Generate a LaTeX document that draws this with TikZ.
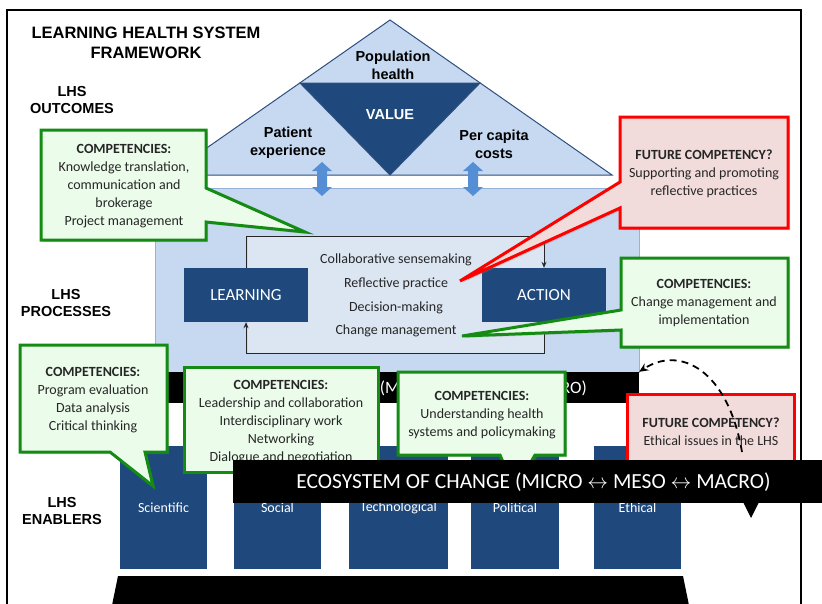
\documentclass[tikz,border=0pt]{standalone}
\usepackage{fontspec}
\setmainfont{Carlito}
\newfontfamily\arialf{Liberation Sans}
\usetikzlibrary{arrows.meta,shadows}
\definecolor{lhslight}{HTML}{C6D9F1}
\definecolor{lhsdark}{HTML}{1F497D}
\definecolor{roofline}{HTML}{2E4F7E}
\definecolor{bodyline}{HTML}{95B3D7}
\definecolor{pboxfill}{HTML}{DCE6F2}
\definecolor{arrowblue}{HTML}{558ED5}
\definecolor{cgreen}{HTML}{148C14}
\definecolor{cgreenfill}{HTML}{EBFCEB}
\definecolor{cred}{HTML}{FF0000}
\definecolor{credfill}{HTML}{F2DCDB}
\definecolor{txtgray}{HTML}{262626}
\begin{document}
\begin{tikzpicture}[x=1pt,y=-1pt,
  lbl/.style={font=\arialf\bfseries\fontsize{14.5}{16.5}\selectfont, align=center, inner sep=0pt},
  rooftxt/.style={font=\arialf\bfseries\fontsize{14.5}{18}\selectfont, align=center, inner sep=0pt},
  calltxt/.style={font=\fontsize{14}{18}\selectfont, text=txtgray, align=center, inner sep=0pt},
  greencall/.style={draw=cgreen, line width=3pt, fill=cgreenfill, line join=miter, drop shadow={shadow xshift=2pt,shadow yshift=-2pt,opacity=.3}},
  redcall/.style={draw=cred, line width=3pt, fill=credfill, line join=miter, drop shadow={shadow xshift=2pt,shadow yshift=-2pt,opacity=.3}},
  darkbox/.style={fill=lhsdark, text=white, inner sep=0pt},
  pillar/.style={darkbox, minimum height=123pt, font=\fontsize{14}{16}\selectfont},
  procarrow/.style={line width=1pt, draw=black!85, -{Stealth[length=6pt,width=5pt]}},
  dblarr/.style={fill=arrowblue},
  bandbox/.style={fill=black, inner sep=0pt}
]
\useasboundingbox (0,0) rectangle (822,603);
\clip (0,0) rectangle (822,603);
% frame
\draw[line width=1.8pt] (7,620) -- (7,10) -- (801,10) -- (801,620);

% titles and labels
\node[lbl, font=\arialf\bfseries\fontsize{16.5}{20}\selectfont] (title) at (146,43) {LEARNING HEALTH SYSTEM\\FRAMEWORK};
\node[lbl] (lout) at (72,100) {LHS\\OUTCOMES};
\node[lbl] (lproc) at (66,303) {LHS\\PROCESSES};
\node[lbl] (lenab) at (62,511) {LHS\\ENABLERS};

% roof
\filldraw[fill=lhslight, draw=roofline, line width=1pt] (168,175) -- (390,20) -- (612,175) -- cycle;
\filldraw[fill=lhsdark, draw=roofline, line width=1pt] (300,83) -- (480,83) -- (390,175) -- cycle;
\node[rooftxt, text=white] (value) at (390,115) {VALUE};
\node[rooftxt] (pop) at (393,65.5) {Population\\health};
\node[rooftxt] (pat) at (288,143) {Patient\\experience};
\node[rooftxt] (cap) at (494,144) {Per capita\\costs};

% body
\filldraw[fill=lhslight, draw=bodyline, line width=1pt] (155,188) rectangle (639,372);

% double arrows
\fill[dblarr, shift={(322,179)}] (0,-17) -- (10,-8) -- (5,-8) -- (5,8) -- (10,8) -- (0,17) -- (-10,8) -- (-5,8) -- (-5,-8) -- (-10,-8) -- cycle;
\fill[dblarr, shift={(473,179)}] (0,-17) -- (10,-8) -- (5,-8) -- (5,8) -- (10,8) -- (0,17) -- (-10,8) -- (-5,8) -- (-5,-8) -- (-10,-8) -- cycle;

% process box
\node[fill=pboxfill, minimum width=296pt, minimum height=116pt, inner sep=0pt] (pbox) at (396,295) {};
\node[darkbox, minimum width=124pt, minimum height=54pt, font=\fontsize{17}{20}\selectfont] (learn) at (246,295) {LEARNING};
\node[darkbox, minimum width=124pt, minimum height=54pt, font=\fontsize{17}{20}\selectfont] (action) at (544,295) {ACTION};
\draw[procarrow] (learn.north) |- (pbox.north) -| (action.north);
\draw[procarrow] (action.south) |- (pbox.south) -| (learn.south);
\node[calltxt, font=\fontsize{14}{23.7}\selectfont] (ptext) at (396,295.5) {Collaborative sensemaking\\Reflective practice\\Decision-making\\Change management};

% old ecosystem band
\node[bandbox, minimum width=489pt, minimum height=31pt] (oldband) at (394.5,387.5) {};
\node[font=\fontsize{17.3}{20}\selectfont, text=white, anchor=east, inner sep=0pt] (oldbandtxt) at (587,388) {ECOSYSTEM OF CHANGE (MICRO $\leftrightarrow$ MESO $\leftrightarrow$ MACRO)};

% pillars
\node[pillar, minimum width=87pt] (sci) at (163.5,507.5) {Scientific};
\node[pillar, minimum width=87pt] (soc) at (277.5,507.5) {Social};
\node[pillar, minimum width=99pt] (tech) at (398.5,507.5) {Technological};
\node[pillar, minimum width=88pt] (pol) at (515,507.5) {Political};
\node[pillar, minimum width=87pt] (eth) at (637.5,507.5) {Ethical};

% base
\fill (118,576) -- (683,576) -- (691,615) -- (110,615) -- cycle;

% callout 1
\path[greencall] (41,130) -- (206,130) -- (206,188) -- (305,232) -- (206,222) -- (206,240) -- (41,240) -- cycle;
\node[calltxt] (c1) at (124,186) {\textbf{COMPETENCIES:}\\Knowledge translation,\\communication and\\brokerage\\Project management};
% callout 2 (red)
\path[redcall] (620,117) -- (788,117) -- (788,228) -- (620,228) -- (620,208) -- (460,281) -- (620,182) -- cycle;
\node[calltxt] (c2) at (704,174) {\textbf{FUTURE COMPETENCY?}\\Supporting and promoting\\reflective practices};
% callout 3
\path[greencall] (621,258) -- (788,258) -- (788,347) -- (621,347) -- (621,330) -- (462,336) -- (621,310) -- cycle;
\node[calltxt] (c3) at (704,303) {\textbf{COMPETENCIES:}\\Change management and\\implementation};
% callout 4
\path[greencall] (20,345) -- (167,345) -- (167,452) -- (145,452) -- (153,486) -- (110,452) -- (20,452) -- cycle;
\node[calltxt] (c4) at (93,400.5) {\textbf{COMPETENCIES:}\\Program evaluation\\Data analysis\\Critical thinking};
% callout 5
\path[greencall] (184,367) -- (378,367) -- (378,472) -- (184,472) -- cycle;
\node[calltxt] (c5) at (281,422) {\textbf{COMPETENCIES:}\\Leadership and collaboration\\Interdisciplinary work\\Networking\\Dialogue and negotiation};
% callout 7
\path[greencall] (398,372) -- (565,372) -- (565,455) -- (535,455) -- (515,490) -- (500,455) -- (398,455) -- cycle;
\node[calltxt] (c7) at (482,415) {\textbf{COMPETENCIES:}\\Understanding health\\systems and policymaking};
% callout 6 (red)
\path[redcall] (627,394) -- (794,394) -- (794,475) -- (627,475) -- cycle;
\node[calltxt] (c6) at (711,432) {\textbf{FUTURE COMPETENCY?}\\Ethical issues in the LHS};

% new ecosystem band
\node[bandbox, minimum width=589pt, minimum height=43pt] (newband) at (527.5,481.5) {};
\fill (743,502) -- (759,502) -- (751,518) -- cycle;
\node[font=\fontsize{21.5}{24}\selectfont, text=white, inner sep=0pt] (newbandtxt) at (533.5,482) {ECOSYSTEM OF CHANGE (MICRO $\leftrightarrow$ MESO $\leftrightarrow$ MACRO)};

% dashed arrow
\coordinate (dashstart) at (742,452);
\draw[line width=1.8pt, dash pattern=on 7pt off 5pt, -{Stealth[length=9pt,width=8pt]}] (dashstart) .. controls (728,370) and (680,345) .. (oldband.north east);
\end{tikzpicture}
\end{document}
